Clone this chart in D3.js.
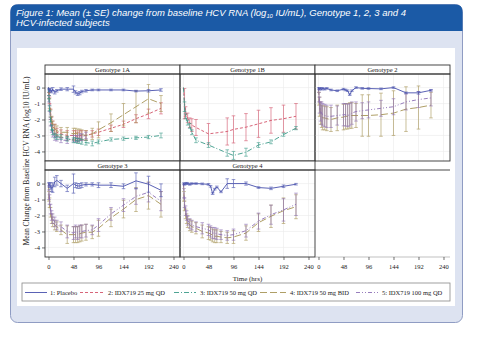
<!DOCTYPE html>
<html><head><meta charset="utf-8">
<script src="https://d3js.org/d3.v7.min.js"></script>
<style>body{margin:0;background:#fff}svg{display:block}</style>
</head><body>
<svg id="c" width="480" height="338"></svg>
<script>
// ---------- DATA ----------
const times = [0, 1, 2, 4, 6, 8, 12, 16, 24, 36, 48, 52, 56, 60, 64, 72, 84, 96, 120, 144, 168, 192, 216];
const armNames = ["1: Placebo", "2: IDX719 25 mg QD", "3: IDX719 50 mg QD", "4: IDX719 50 mg BID", "5: IDX719 100 mg QD"];
const panelTitles = ["Genotype 1A", "Genotype 1B", "Genotype 2", "Genotype 3", "Genotype 4"];
const xTicks = [0, 48, 96, 144, 192, 240];
const yTicks = [0, -1, -2, -3, -4];
const N = null;

// Genotype 1A
const g1aPlacebo   = [0, -0.1, -0.2, -0.15, -0.25, -0.1, -0.3, -0.2, -0.1, -0.1, -0.1, -0.3, -0.4, -0.35, -0.25, -0.2, -0.15, -0.15, -0.15, -0.15, -0.22, -0.2, -0.15];
const g1aPlaceboSe = [0, 0.05, 0.08, 0.1, 0.08, 0.1, 0.1, 0.08, 0.08, 0.1, 0.2, 0.1, 0.1, 0.1, 0.08, 0.08, 0.05, 0.05, 0.05, 0.05, 0.05, 0.08, 0.08];
const g1a25   = [0, -0.4, -0.8, -1.6, -2.1, -2.4, -2.6, -2.8, -2.9, -3.0, -3.0, -3.0, -3.1, -3.0, -3.0, -3.0, -2.9, -2.8, -2.55, -2.3, -1.95, -1.65, -1.3];
const g1a25Se = [0, 0.1, 0.2, 0.25, 0.25, 0.3, 0.3, 0.25, 0.25, 0.3, 0.3, 0.3, 0.3, 0.3, 0.3, 0.3, 0.2, 0.2, 0.2, 0.2, 0.25, 0.3, 0.35];
const g1a50   = [0, -0.6, -1.3, -2.0, -2.5, -2.8, -3.0, -3.1, -3.1, -3.2, -3.3, -3.3, -3.35, -3.35, -3.4, -3.45, -3.5, -3.4, -3.25, -3.2, -3.15, -3.1, -3.0];
const g1a50Se = [0, 0.1, 0.15, 0.15, 0.15, 0.15, 0.15, 0.15, 0.15, 0.15, 0.15, 0.15, 0.15, 0.15, 0.15, 0.15, 0.15, 0.12, 0.1, 0.1, 0.1, 0.1, 0.15];
const g1aBid   = [0, -0.5, -1.0, -1.7, -2.1, -2.4, -2.6, -2.7, -2.8, -2.8, -2.9, -2.85, -2.9, -2.9, -2.95, -3.0, -2.9, -2.65, -2.2, -1.7, -1.2, -0.7, -1.0];
const g1aBidSe = [0, 0.2, 0.3, 0.3, 0.3, 0.3, 0.3, 0.3, 0.3, 0.3, 0.35, 0.3, 0.3, 0.3, 0.3, 0.3, 0.35, 0.5, 0.55, 0.7, 1.0, 0.9, 0.5];
const g1a100   = [0, -0.7, -1.3, -2.2, -2.6, -2.9, -3.1, -3.2, -3.3, -3.3, -3.2, -3.2, -3.2, -3.1, -3.1, -3.0, N, N, N, N, N, N, N];
const g1a100Se = [0, 0.2, 0.2, 0.2, 0.2, 0.2, 0.2, 0.15, 0.15, 0.2, 0.2, 0.2, 0.2, 0.2, 0.2, 0.2, N, N, N, N, N, N, N];

// Genotype 1B
const g1b25   = [0, N, -1.0, -1.5, N, -1.9, -2.2, -2.35, -2.5, N, -2.9, N, N, N, N, N, -2.75, -2.62, -2.48, -2.27, -2.06, -1.95, -1.8];
const g1b25Se = [0, N, 0.95, 0.3, N, 0.3, 0.3, 0.4, 0.5, N, 0.65, N, N, N, N, N, 0.85, 0.85, 0.85, 0.85, 0.8, 0.85, 0.8];
const g1b50   = [0, N, -1.2, -1.8, N, -2.2, -2.4, -2.8, -3.3, N, -3.6, N, N, N, N, N, -4.1, -4.25, -4.05, -3.6, -3.4, -2.95, -2.54];
const g1b50Se = [0, N, 0.3, 0.15, N, 0.15, 0.15, 0.15, 0.15, N, 0.15, N, N, N, N, N, 0.2, 0.25, 0.25, 0.15, 0.12, 0.1, 0.1];

// Genotype 2
const g2Placebo   = [0, -0.05, -0.1, -0.05, -0.1, -0.05, -0.1, -0.05, -0.15, -0.2, -0.1, -0.15, -0.2, -0.45, -0.2, 0.0, -0.05, -0.06, -0.08, 0.0, -0.33, -0.33, -0.17];
const g2PlaceboSe = [0, 0.05, 0.05, 0.05, 0.05, 0.05, 0.05, 0.05, 0.05, 0.05, 0.05, 0.05, 0.05, 0.05, 0.05, 0.05, 0.05, 0.05, 0.05, 0.05, 0.05, 0.08, 0.05];
const g2Bid   = [0, -0.7, -1.2, -1.6, -1.8, -1.9, -1.9, -1.95, -2.0, -1.9, -1.85, -1.8, -1.8, -1.75, -1.75, -1.75, -1.75, -1.75, -1.7, -1.6, -1.35, -1.25, -1.1];
const g2BidSe = [0, 0.4, 0.6, 0.7, 0.7, 0.75, 0.75, 0.75, 0.75, 0.8, 0.8, 0.8, 0.8, 0.8, 0.8, 0.75, 1.3, 1.3, 1.35, 1.4, 1.4, 1.35, 0.8];
const g2100   = [0, -0.6, -1.1, -1.5, -1.6, -1.7, -1.75, -1.8, -1.8, -1.75, -1.7, -1.7, -1.75, -1.7, -1.6, -1.5, -1.45, -1.4, -1.3, -1.2, -0.9, -0.75, -0.65];
const g2100Se = [0, 0.3, 0.5, 0.6, 0.7, 0.7, 0.7, 0.7, 0.7, 0.6, 0.7, 0.7, 0.7, 0.7, 0.7, 0.6, 0.5, 0.5, 0.5, 0.5, 0.5, 0.5, 0.5];

// Genotype 3
const g3Placebo   = [0, -0.05, -0.1, -0.15, -0.3, -0.25, 0.1, 0.2, 0.0, -0.3, 0.0, -0.1, -0.15, -0.15, -0.1, -0.05, -0.05, -0.1, -0.1, -0.17, 0.17, -0.04, -0.42];
const g3PlaceboSe = [0, 0.1, 0.15, 0.2, 0.2, 0.3, 0.3, 0.3, 0.2, 0.2, 0.6, 0.15, 0.15, 0.15, 0.15, 0.1, 0.1, 0.15, 0.15, 0.15, 0.5, 0.5, 0.4];
const g3Bid   = [0, -0.8, -1.2, -1.8, -2.2, -2.4, -2.6, -2.7, -2.9, -3.2, -3.2, -3.2, -3.2, -3.15, -3.1, -3.05, -3.05, -2.8, -2.15, -1.6, -1.0, -0.75, -1.3];
const g3BidSe = [0, 0.3, 0.3, 0.3, 0.3, 0.3, 0.3, 0.3, 0.3, 0.55, 0.5, 0.5, 0.5, 0.5, 0.5, 0.5, 0.4, 0.5, 0.55, 0.55, 0.75, 0.85, 0.8];
const g3100   = [0, -0.7, -1.0, -1.6, -2.0, -2.2, -2.4, -2.6, -2.7, -3.0, -3.1, -3.0, -3.1, -3.0, -3.0, -2.95, -2.9, -2.6, -1.9, -1.35, -0.8, -0.55, -1.1];
const g3100Se = [0, 0.3, 0.3, 0.3, 0.3, 0.3, 0.3, 0.3, 0.3, 0.4, 0.4, 0.4, 0.4, 0.4, 0.4, 0.4, 0.3, 0.4, 0.4, 0.4, 0.5, 0.6, 0.6];

// Genotype 4
const g4Placebo   = [0, 0.0, -0.05, 0.0, 0.02, 0.0, -0.05, 0.0, 0.0, -0.02, -0.05, -0.17, -0.63, -0.35, -0.21, -0.52, 0.0, 0.0, 0.0, -0.25, -0.3, -0.17, -0.04];
const g4PlaceboSe = [0, 0.05, 0.05, 0.05, 0.05, 0.05, 0.05, 0.05, 0.05, 0.05, 0.05, 0.05, 0.05, 0.05, 0.05, 0.05, 0.3, 0.25, 0.1, 0.05, 0.08, 0.08, 0.05];
const g4Bid   = [0, -0.8, -1.4, -1.9, -2.2, -2.4, -2.6, -2.7, -2.8, -3.0, -3.1, -3.15, -3.25, -3.3, -3.3, -3.35, -3.4, -3.35, -3.1, -2.45, -2.05, -1.7, -1.45];
const g4BidSe = [0, 0.3, 0.3, 0.3, 0.3, 0.35, 0.35, 0.35, 0.35, 0.4, 0.4, 0.4, 0.4, 0.4, 0.4, 0.35, 0.35, 0.4, 0.45, 0.55, 0.7, 0.8, 0.75];
const g4100   = [0, -0.6, -1.2, -1.7, -2.0, -2.3, -2.5, -2.6, -2.7, -2.8, -2.9, -3.0, -3.1, -3.1, -3.15, -3.2, -3.25, -3.2, -2.95, -2.35, -1.95, -1.65, -1.3];
const g4100Se = [0, 0.3, 0.3, 0.3, 0.3, 0.3, 0.3, 0.3, 0.3, 0.35, 0.35, 0.35, 0.35, 0.35, 0.35, 0.3, 0.3, 0.35, 0.4, 0.5, 0.6, 0.7, 0.7];

// ---------- TABLE ----------
const panels = [
  {title: panelTitles[0], col: 0, row: 0, series: [[1,g1a25,g1a25Se],[3,g1aBid,g1aBidSe],[4,g1a100,g1a100Se],[2,g1a50,g1a50Se],[0,g1aPlacebo,g1aPlaceboSe]]},
  {title: panelTitles[1], col: 1, row: 0, series: [[1,g1b25,g1b25Se],[2,g1b50,g1b50Se]]},
  {title: panelTitles[2], col: 2, row: 0, series: [[3,g2Bid,g2BidSe],[4,g2100,g2100Se],[0,g2Placebo,g2PlaceboSe]]},
  {title: panelTitles[3], col: 0, row: 1, series: [[3,g3Bid,g3BidSe],[4,g3100,g3100Se],[0,g3Placebo,g3PlaceboSe]]},
  {title: panelTitles[4], col: 1, row: 1, series: [[3,g4Bid,g4BidSe],[4,g4100,g4100Se],[0,g4Placebo,g4PlaceboSe]]}
];

// ---------- STYLE ----------
const armColor = ["#4750ad", "#d2536a", "#3a9a88", "#a69455", "#8c6fb5"];
const armDash  = [null, "3,2", "5,2,1,2", "7,3", "4,2,1,2,1,2"];
const serif = "'Liberation Serif','Times New Roman',serif";

const svg = d3.select("#c");

// frame
svg.append("rect").attr("x",10.5).attr("y",4.5).attr("width",452).attr("height",318).attr("rx",7)
  .attr("fill","#dde3f1").attr("stroke","#8f9cc3");
svg.append("path").attr("d","M10.5,31 V11.5 Q10.5,4.5 17.5,4.5 H455.5 Q462.5,4.5 462.5,11.5 V31 Z").attr("fill","#1b5aa6");
svg.append("rect").attr("x",17).attr("y",48).attr("width",438).attr("height",258).attr("fill","#fff");

const title = svg.append("text").attr("x",16).attr("y",15.5).attr("fill","#fff")
  .attr("font-family","'Liberation Sans',Arial,sans-serif").attr("font-style","italic").attr("font-size",9.5);
title.append("tspan").text("Figure 1: Mean (± SE) change from baseline HCV RNA (log");
title.append("tspan").attr("font-size",5.8).attr("dy",2).text("10");
title.append("tspan").attr("dy",-2).text(" IU/mL), Genotype 1, 2, 3 and 4");
svg.append("text").attr("x",16).attr("y",25.5).attr("fill","#fff")
  .attr("font-family","'Liberation Sans',Arial,sans-serif").attr("font-style","italic").attr("font-size",9.5)
  .text("HCV-infected subjects");

// lattice geometry
const colX = [45, 180, 315], pw = 135;
const rows = [{h: 65, top: 74, bottom: 161}, {h: 161, top: 170, bottom: 257}];
const xScale = c => d3.scaleLinear().domain([-6.7, 252.5]).range([colX[c], colX[c] + pw]);
const yScale = r => d3.scaleLinear().domain([0.85, -4.6]).range([rows[r].top, rows[r].bottom]);

const g = svg.append("g");
const line = (x, y) => d3.line().x(d => x(d.t)).y(d => y(d.m));

panels.forEach(p => {
  const x = xScale(p.col), y = yScale(p.row), R = rows[p.row];
  const pg = g.append("g");
  // grid
  pg.selectAll(".gx").data(xTicks).join("line").attr("x1", d => x(d)).attr("x2", d => x(d))
    .attr("y1", R.top).attr("y2", R.bottom).attr("stroke", "#ebebeb").attr("stroke-width", 0.6);
  pg.selectAll(".gy").data(yTicks).join("line").attr("y1", d => y(d)).attr("y2", d => y(d))
    .attr("x1", colX[p.col]).attr("x2", colX[p.col] + pw).attr("stroke", "#ebebeb").attr("stroke-width", 0.6);
  // series
  p.series.forEach(([arm, mean, se]) => {
    const pts = times.map((t, i) => ({t, m: mean[i], s: se[i]})).filter(d => d.m !== null);
    const col = armColor[arm];
    const eb = pg.append("g").attr("stroke", col).attr("stroke-width", 0.7).attr("opacity", 0.85);
    pts.filter(d => d.s > 0).forEach(d => {
      const cx = x(d.t), y1 = y(d.m + d.s), y2 = y(d.m - d.s);
      eb.append("line").attr("x1", cx).attr("x2", cx).attr("y1", y1).attr("y2", y2);
      eb.append("line").attr("x1", cx - 1.8).attr("x2", cx + 1.8).attr("y1", y1).attr("y2", y1);
      eb.append("line").attr("x1", cx - 1.8).attr("x2", cx + 1.8).attr("y1", y2).attr("y2", y2);
    });
    pg.append("path").attr("d", line(x, y)(pts)).attr("fill", "none").attr("stroke", col)
      .attr("stroke-width", 0.9).attr("stroke-dasharray", armDash[arm]);
  });
  // borders
  pg.append("rect").attr("x", colX[p.col]).attr("y", R.h).attr("width", pw).attr("height", R.top - R.h)
    .attr("fill", "#fff").attr("stroke", "#333").attr("stroke-width", 0.9);
  pg.append("rect").attr("x", colX[p.col]).attr("y", R.top).attr("width", pw).attr("height", R.bottom - R.top)
    .attr("fill", "none").attr("stroke", "#333").attr("stroke-width", 0.9);
  pg.append("text").attr("x", colX[p.col] + pw / 2).attr("y", R.h + 7).attr("text-anchor", "middle")
    .attr("font-family", serif).attr("font-size", 6.5).attr("fill", "#222").text(p.title);
});

// empty cell lines
g.append("line").attr("x1", colX[2]).attr("x2", colX[2] + pw).attr("y1", rows[1].top).attr("y2", rows[1].top)
  .attr("stroke", "#333").attr("stroke-width", 0.9);
g.append("line").attr("x1", colX[2]).attr("x2", colX[2] + pw).attr("y1", rows[1].bottom).attr("y2", rows[1].bottom)
  .attr("stroke", "#999").attr("stroke-width", 0.6);

// axes
const styleAxis = a => {
  a.select(".domain").remove();
  a.selectAll("text").attr("font-family", serif).attr("font-size", 6.5).attr("fill", "#222");
  a.selectAll("line").attr("stroke", "#333").attr("stroke-width", 0.7);
};
rows.forEach((R, r) => {
  svg.append("g").attr("transform", `translate(${colX[0]},0)`)
    .call(d3.axisLeft(yScale(r)).tickValues(yTicks).tickSize(3).tickPadding(2).tickFormat(d => String(d)))
    .call(styleAxis);
});
[0, 1, 2].forEach(c => {
  svg.append("g").attr("transform", `translate(0,${rows[1].bottom})`)
    .call(d3.axisBottom(xScale(c)).tickValues(xTicks).tickSize(3).tickPadding(4).tickFormat(d => String(d)))
    .call(styleAxis);
});

// axis titles
svg.append("text").attr("transform", "translate(29,161) rotate(-90)").attr("text-anchor", "middle")
  .attr("font-family", serif).attr("font-size", 7.6).attr("fill", "#222")
  .text("Mean Change from Baseline HCV RNA (log10 IU/mL)");
svg.append("text").attr("x", 247.5).attr("y", 281).attr("text-anchor", "middle")
  .attr("font-family", serif).attr("font-size", 7).attr("fill", "#222").text("Time (hrs)");

// legend
svg.append("rect").attr("x", 22).attr("y", 283).attr("width", 428).attr("height", 18)
  .attr("fill", "#fff").attr("stroke", "#888").attr("stroke-width", 0.8);
const legX = [[25, 47, 50], [80, 103, 108], [174, 196, 200], [260, 286, 290], [356, 378, 382]];
armNames.forEach((n, i) => {
  svg.append("line").attr("x1", legX[i][0]).attr("x2", legX[i][1]).attr("y1", 292.5).attr("y2", 292.5)
    .attr("stroke", armColor[i]).attr("stroke-width", 0.9).attr("stroke-dasharray", armDash[i]);
  svg.append("text").attr("x", legX[i][2]).attr("y", 295).attr("font-family", serif).attr("font-size", 6.5)
    .attr("fill", "#222").text(n);
});
</script>
</body></html>
